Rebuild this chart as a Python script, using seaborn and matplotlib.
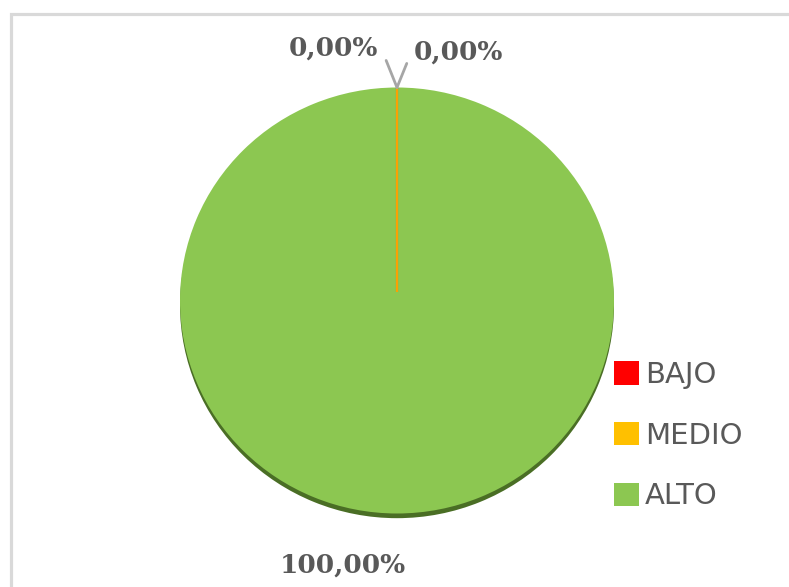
import matplotlib
matplotlib.use("Agg")
import numpy as np
import matplotlib.pyplot as plt
import seaborn as sns
from matplotlib.patches import Rectangle

sns.set_theme(style="white")
plt.rcParams['font.family'] = ['DejaVu Sans']

categories = ["BAJO", "MEDIO", "ALTO"]
values = [0.0, 0.0, 100.0]
value_labels = ["0,00%", "0,00%", "100,00%"]
colors = ["#FF0000", "#FFC000", "#8CC751"]

fig = plt.figure(figsize=(7.89, 5.87), dpi=100)
fig.patch.set_facecolor("white")
ax = fig.add_axes([0, 0, 1, 1])

# shadow pie (offset down)
shadow, _ = ax.pie(values, colors=["#4A6E25"] * 3, startangle=90, counterclock=False,
                   center=(0, -0.022), radius=1.0, normalize=True,
                   wedgeprops=dict(linewidth=0))
for w in shadow:
    w.set_zorder(1)

wedges, _ = ax.pie(values, colors=colors, startangle=90, counterclock=False,
                   radius=1.0, normalize=True, wedgeprops=dict(linewidth=0))
for w in wedges:
    w.set_zorder(2)

# zero-size slices appear as a thin line along their (common) boundary
for w, v, c in zip(wedges, values, colors):
    if v == 0:
        ang = np.deg2rad(w.theta1)
        ax.plot([0, np.cos(ang)], [0.04, np.sin(ang)], color=c, lw=1.5, alpha=0.8,
                solid_capstyle="butt", zorder=3)

ax.set_aspect("auto")
ax.set_xlim(-1.8295, 1.8065)
ax.set_ylim(-1.3451, 1.4108)
ax.axis("off")

lab_kw = dict(fontsize=19, fontweight="bold", color="#595959",
              family=["DejaVu Serif"], ha="center", va="center", zorder=5)
# leader lines for the zero slices
ax.annotate("", xy=(0, 1.0), xytext=(-0.05, 1.127),
            arrowprops=dict(arrowstyle="-", color="#A6A6A6", lw=2, shrinkA=0, shrinkB=0))
ax.annotate("", xy=(0, 1.0), xytext=(0.045, 1.113),
            arrowprops=dict(arrowstyle="-", color="#A6A6A6", lw=2, shrinkA=0, shrinkB=0))
ax.text(-0.295, 1.1854, value_labels[0], **lab_kw)
ax.text(0.281, 1.1667, value_labels[1], **lab_kw)
ax.text(-0.249, -1.2418, value_labels[2], **lab_kw)

leg = ax.legend(wedges, categories, loc="upper left",
                bbox_to_anchor=(614 / 789, 1 - 361 / 587), bbox_transform=fig.transFigure,
                frameon=False, fontsize=21, borderpad=0, borderaxespad=0,
                handlelength=0.85, handleheight=0.85, handletextpad=0.2, labelspacing=1.12)
for t in leg.get_texts():
    t.set_color("#595959")
for h, c in zip(leg.legend_handles, colors):
    h.set_edgecolor(c)
    h.set_linewidth(0)

# outer frame (light gray border)
fig.patches.append(Rectangle((10.5 / 789, -0.1), 1.2, 1 - 13.5 / 587 + 0.1,
                             transform=fig.transFigure, fill=False,
                             edgecolor="#D9D9D9", linewidth=2.3, zorder=0))

fig.savefig("out.png", dpi=100, facecolor="white")
